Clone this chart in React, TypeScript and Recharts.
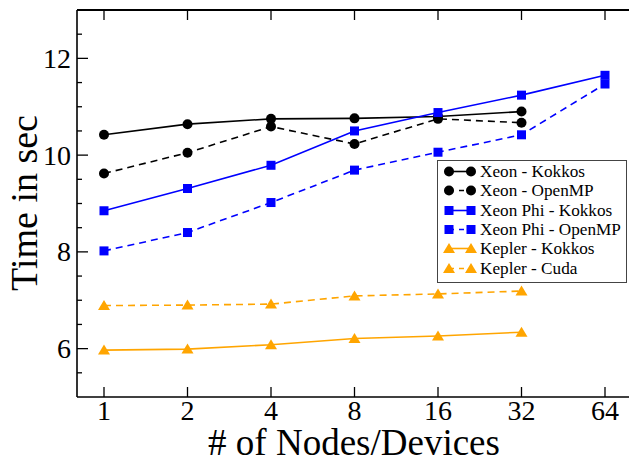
import { LineChart, Line, XAxis, YAxis, Legend } from 'recharts'

const nodes = ['1', '2', '4', '8', '16', '32', '64']

const xeonKokkos = [10.42, 10.64, 10.75, 10.76, 10.8, 10.9]
const xeonOpenMP = [9.62, 10.05, 10.59, 10.23, 10.75, 10.67]
const phiKokkos = [8.85, 9.31, 9.79, 10.5, 10.88, 11.24, 11.65]
const phiOpenMP = [8.02, 8.4, 9.02, 9.69, 10.06, 10.42, 11.47]
const keplerKokkos = [5.97, 5.99, 6.08, 6.21, 6.26, 6.34]
const keplerCuda = [6.89, 6.9, 6.92, 7.09, 7.13, 7.19]

const yTicks = [5.5, 6, 6.5, 7, 7.5, 8, 8.5, 9, 9.5, 10, 10.5, 11, 11.5, 12, 12.5]
const yLabels = [6, 8, 10, 12]

const series = [
  { key: 'xk', name: 'Xeon - Kokkos', values: xeonKokkos, color: '#000000', dashed: false, shape: 'circle' },
  { key: 'xo', name: 'Xeon - OpenMP', values: xeonOpenMP, color: '#000000', dashed: true, shape: 'circle' },
  { key: 'pk', name: 'Xeon Phi - Kokkos', values: phiKokkos, color: '#0000ff', dashed: false, shape: 'square' },
  { key: 'po', name: 'Xeon Phi - OpenMP', values: phiOpenMP, color: '#0000ff', dashed: true, shape: 'square' },
  { key: 'kk', name: 'Kepler - Kokkos', values: keplerKokkos, color: '#ffa500', dashed: false, shape: 'triangle' },
  { key: 'kc', name: 'Kepler - Cuda', values: keplerCuda, color: '#ffa500', dashed: true, shape: 'triangle' },
]

const data = nodes.map((n, i) => {
  const row: any = { n }
  series.forEach((s) => {
    row[s.key] = s.values[i]
  })
  return row
})

const FONT = '"Liberation Serif", "DejaVu Serif", serif'

function marker(shape: string, color: string, cx: number, cy: number, key?: string) {
  if (shape === 'circle') return <circle key={key} cx={cx} cy={cy} r={5} fill={color} />
  if (shape === 'square') return <rect key={key} x={cx - 4.5} y={cy - 4.5} width={9} height={9} fill={color} />
  return <polygon key={key} points={`${cx},${cy - 5.5} ${cx - 6},${cy + 4.5} ${cx + 6},${cy + 4.5}`} fill={color} />
}

const makeDot = (shape: string, color: string) => (p: any) => {
  const k = `${shape}-${color}-${p.index}`
  if (p.cx == null || p.cy == null || p.value == null) return <g key={k} />
  return marker(shape, color, p.cx, p.cy, k)
}

function LeftTick({ x, y, payload }: any) {
  const major = yLabels.includes(payload.value)
  return (
    <g>
      <line x1={x} x2={x + (major ? 11 : 5)} y1={y} y2={y} stroke="#000" strokeWidth={1.3} />
      {major && (
        <text x={x - 6} y={y + 9.5} textAnchor="end" fontSize={28} fontFamily={FONT} fill="#000">
          {payload.value}
        </text>
      )}
    </g>
  )
}

function RightTick({ x, y, payload }: any) {
  const major = yLabels.includes(payload.value)
  return <line x1={x} x2={x - (major ? 11 : 5)} y1={y} y2={y} stroke="#000" strokeWidth={1.3} />
}

function BottomTick({ x, y, payload }: any) {
  return (
    <g>
      <line x1={x} x2={x} y1={y} y2={y - 10} stroke="#000" strokeWidth={1.3} />
      <text x={x} y={y + 23} textAnchor="middle" fontSize={28} fontFamily={FONT} fill="#000">
        {payload.value}
      </text>
    </g>
  )
}

function TopTick({ x, y }: any) {
  return <line x1={x} x2={x} y1={y} y2={y + 10} stroke="#000" strokeWidth={1.3} />
}

function LegendBox() {
  return (
    <div
      style={{
        boxSizing: 'border-box',
        width: 190,
        height: 123,
        border: '1.5px solid #444',
        background: '#fff',
        paddingTop: 1,
        fontFamily: FONT,
      }}
    >
      {series.map((s) => (
        <div key={s.key} style={{ display: 'flex', alignItems: 'center', height: 19.3 }}>
          <svg width={38} height={19} style={{ marginLeft: 4, flex: 'none' }}>
            <line
              x1={7}
              x2={29}
              y1={9.5}
              y2={9.5}
              stroke={s.color}
              strokeWidth={1.6}
              strokeDasharray={s.dashed ? '5 5' : undefined}
            />
            {marker(s.shape, s.color, 7, 9.5)}
            {marker(s.shape, s.color, 29, 9.5)}
          </svg>
          <span style={{ fontFamily: FONT, fontSize: 17.2, color: '#000', lineHeight: '19px', whiteSpace: 'nowrap' }}>
            {s.name}
          </span>
        </div>
      ))}
    </div>
  )
}

export default function App() {
  return (
    <div
      style={{
        position: 'fixed',
        left: 0,
        top: 0,
        width: 629,
        height: 462,
        overflow: 'hidden',
        background: '#fff',
        fontFamily: FONT,
      }}
    >
      <LineChart width={632} height={462} data={data} margin={{ top: 0, right: 0, bottom: 0, left: 0 }}>
        <XAxis
          xAxisId="b"
          dataKey="n"
          height={65}
          padding={{ left: 27, right: 26 }}
          axisLine={{ stroke: '#000', strokeWidth: 1.6 }}
          tickLine={false}
          tickSize={0}
          tickMargin={0}
          interval={0}
          tick={<BottomTick />}
          label={{
            value: '# of Nodes/Devices',
            content: () => (
              <text x={354} y={455} textAnchor="middle" fontSize={37} fontFamily={FONT} fill="#000">
                # of Nodes/Devices
              </text>
            ),
          }}
        />
        <XAxis
          xAxisId="t"
          dataKey="n"
          orientation="top"
          height={10}
          padding={{ left: 27, right: 26 }}
          axisLine={{ stroke: '#000', strokeWidth: 1.8 }}
          tickLine={false}
          tickSize={0}
          tickMargin={0}
          interval={0}
          tick={<TopTick />}
        />
        <YAxis
          yAxisId="l"
          width={77}
          domain={[5, 13]}
          ticks={yTicks}
          interval={0}
          axisLine={{ stroke: '#000', strokeWidth: 1.6 }}
          tickLine={false}
          tickSize={0}
          tickMargin={0}
          tick={<LeftTick />}
          label={{
            value: 'Time in sec',
            content: () => (
              <text
                x={37}
                y={203}
                transform="rotate(-90 37 203)"
                textAnchor="middle"
                fontSize={38}
                fontFamily={FONT}
                fill="#000"
              >
                Time in sec
              </text>
            ),
          }}
        />
        <YAxis
          yAxisId="r"
          orientation="right"
          width={1}
          domain={[5, 13]}
          ticks={yTicks}
          interval={0}
          axisLine={{ stroke: '#000', strokeWidth: 1.6 }}
          tickLine={false}
          tickSize={0}
          tickMargin={0}
          tick={<RightTick />}
        />
        {series.map((s) => (
          <Line
            key={s.key}
            xAxisId="b"
            yAxisId="l"
            type="linear"
            dataKey={s.key}
            name={s.name}
            stroke={s.color}
            strokeWidth={1.6}
            strokeDasharray={s.dashed ? '7 5' : undefined}
            dot={makeDot(s.shape, s.color)}
            activeDot={false}
            isAnimationActive={false}
          />
        ))}
        <Legend
          layout="horizontal"
          verticalAlign="middle"
          align="center"
          content={() => <LegendBox />}
          wrapperStyle={{ left: 437, top: 160, width: 190, height: 123 }}
        />
      </LineChart>
    </div>
  )
}
